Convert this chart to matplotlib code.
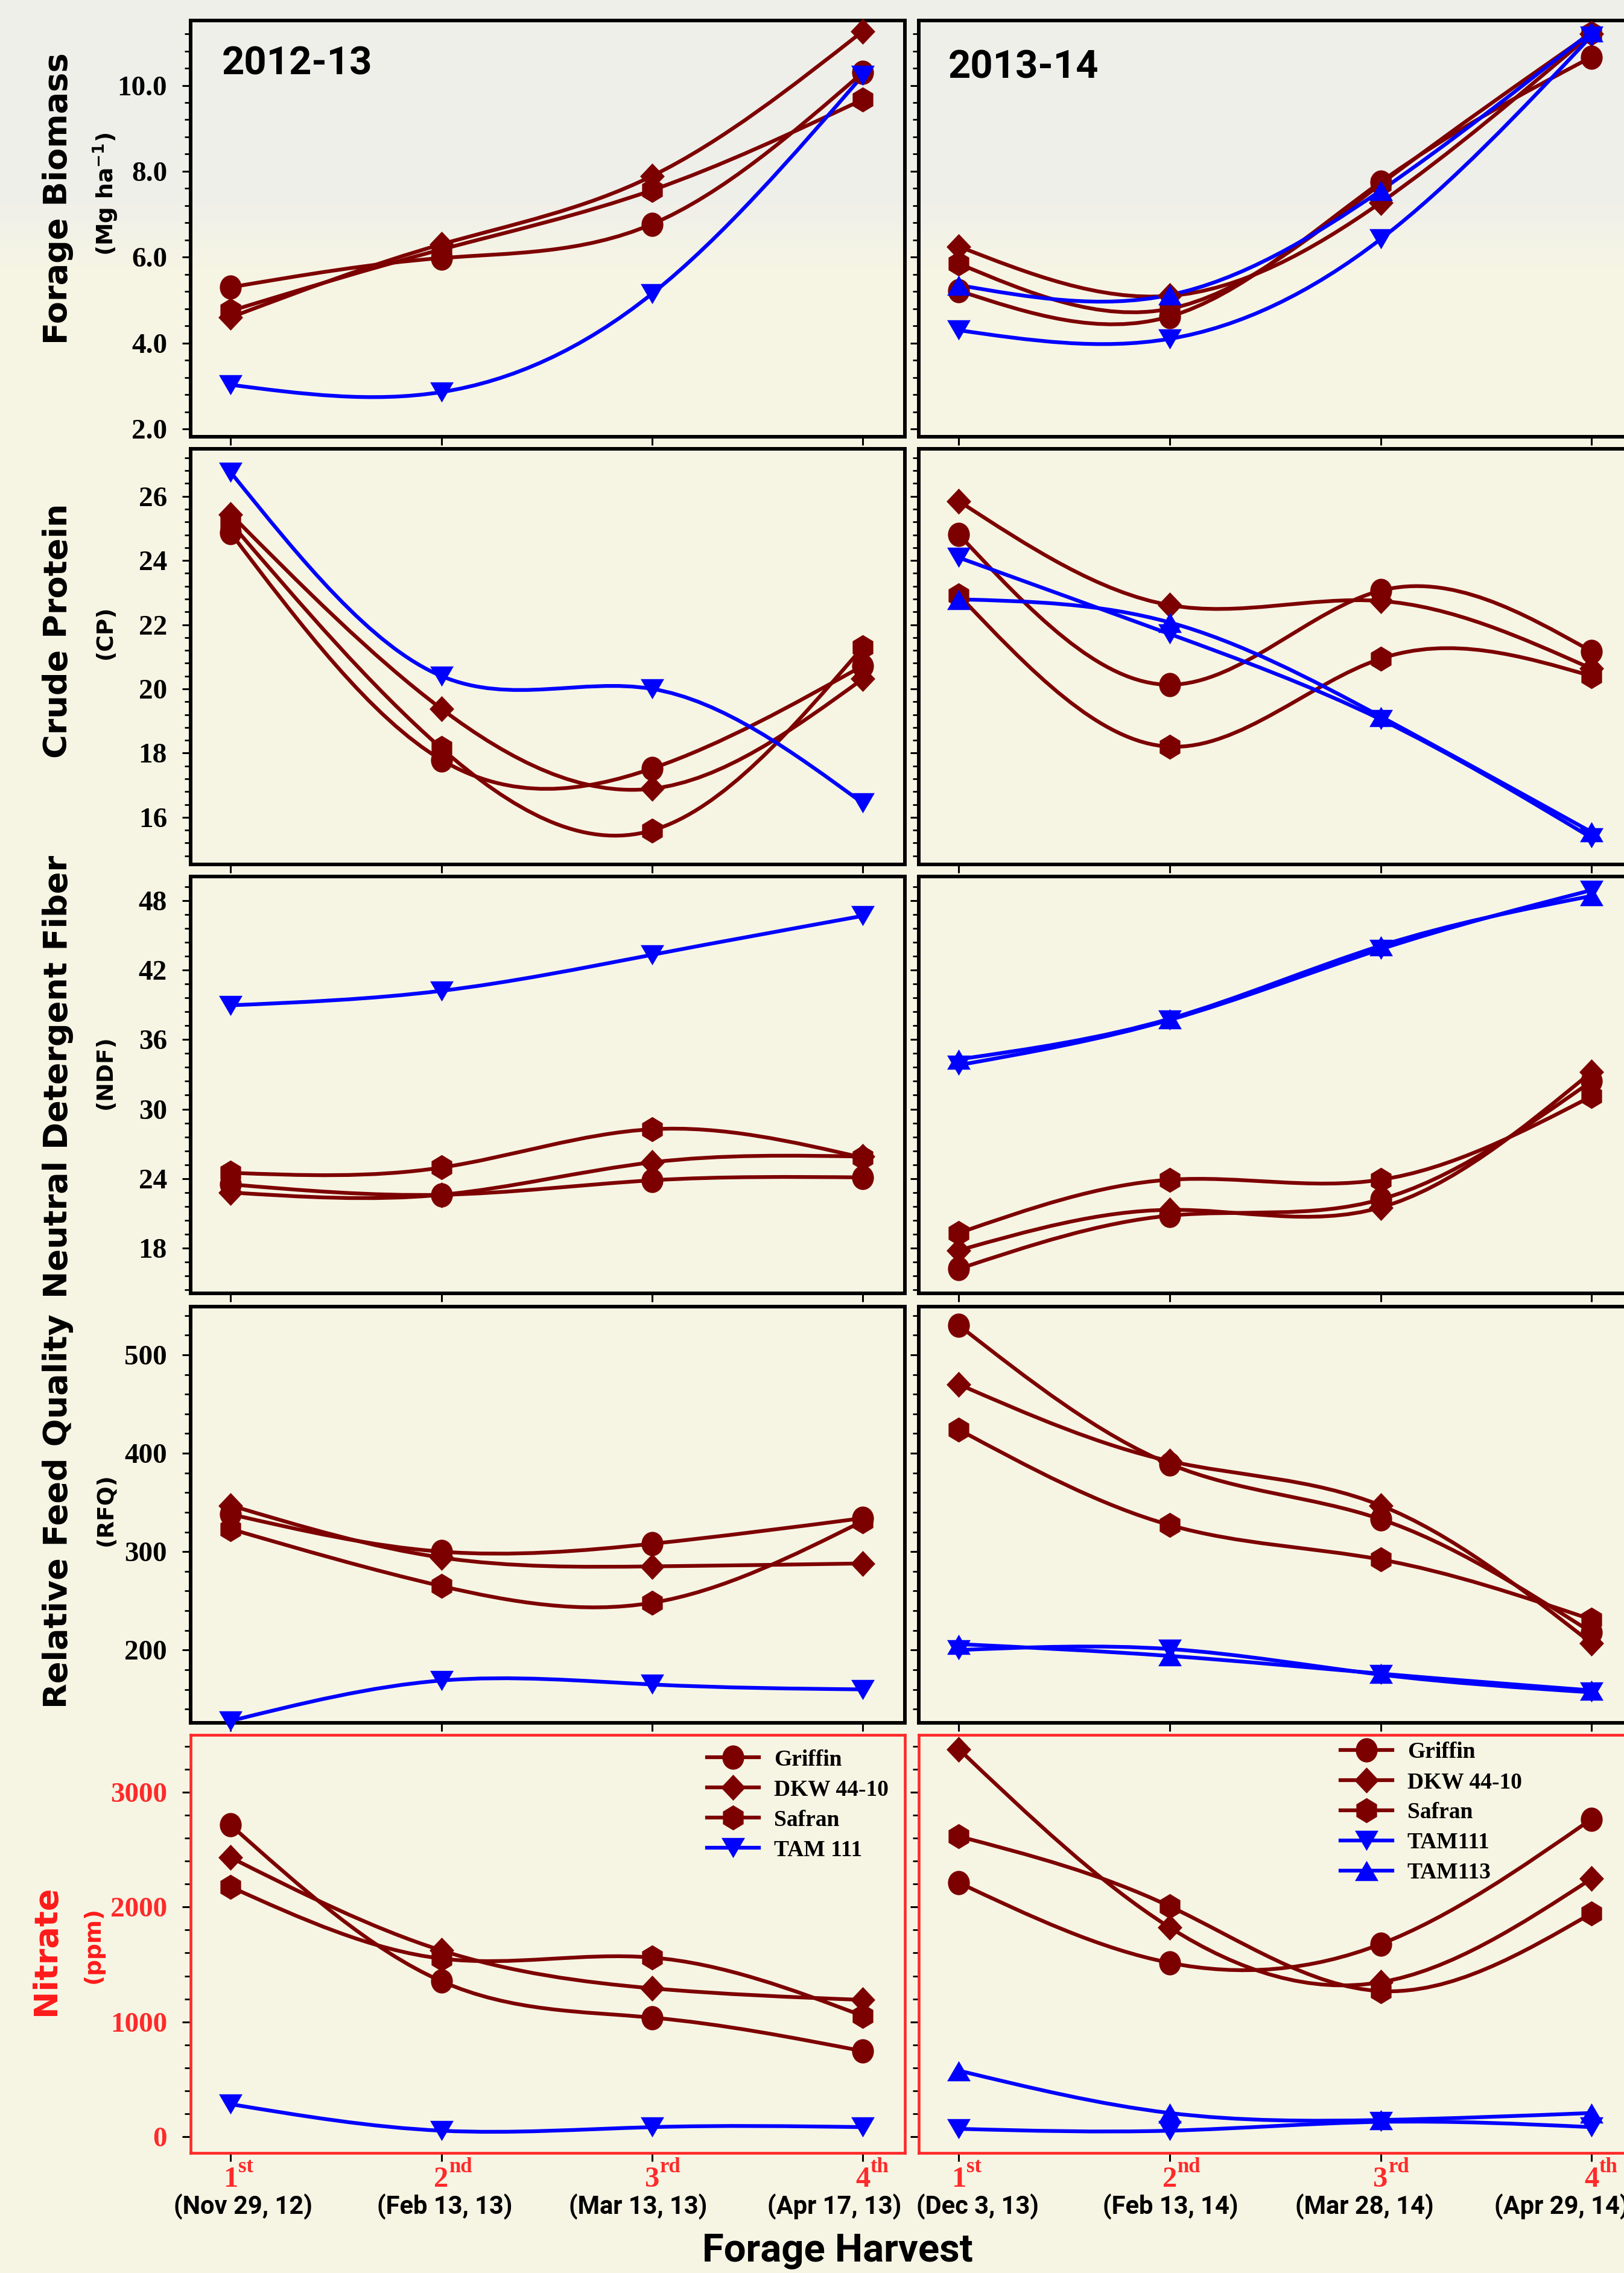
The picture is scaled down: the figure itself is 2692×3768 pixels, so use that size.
import numpy as np
import matplotlib.pyplot as plt
from matplotlib.path import Path
from matplotlib.patches import PathPatch
from matplotlib.lines import Line2D
from matplotlib.colors import LinearSegmentedColormap
import matplotlib.transforms as mtransforms

# ---- data ----
harvest = [1, 2, 3, 4]
ordinals = ['1', '2', '3', '4']
suffixes = ['st', 'nd', 'rd', 'th']
dates_1213 = ['(Nov 29, 12)', '(Feb 13, 13)', '(Mar 13, 13)', '(Apr 17, 13)']
dates_1314 = ['(Dec 3, 13)', '(Feb 13, 14)', '(Mar 28, 14)', '(Apr 29, 14)']

varieties_1213 = ['Griffin', 'DKW 44-10', 'Safran', 'TAM 111']
varieties_1314 = ['Griffin', 'DKW 44-10', 'Safran', 'TAM111', 'TAM113']

biomass_1213 = {'Griffin': [5.30, 5.98, 6.77, 10.30],
                'DKW 44-10': [4.60, 6.30, 7.89, 11.26],
                'Safran': [4.75, 6.18, 7.56, 9.67],
                'TAM 111': [3.03, 2.86, 5.15, 10.23]}
biomass_1314 = {'Griffin': [5.22, 4.62, 7.75, 10.66],
                'DKW 44-10': [6.25, 5.10, 7.27, 11.20],
                'Safran': [5.85, 4.80, 7.70, 11.22],
                'TAM111': [4.30, 4.10, 6.42, 11.15],
                'TAM113': [5.35, 5.12, 7.55, 11.25]}

cp_1213 = {'Griffin': [24.86, 17.79, 17.52, 20.72],
           'DKW 44-10': [25.44, 19.38, 16.89, 20.31],
           'Safran': [25.17, 18.15, 15.59, 21.30],
           'TAM 111': [26.75, 20.40, 20.00, 16.44]}
cp_1314 = {'Griffin': [24.81, 20.13, 23.06, 21.17],
           'DKW 44-10': [25.85, 22.61, 22.74, 20.63],
           'Safran': [22.92, 18.20, 20.94, 20.40],
           'TAM111': [24.09, 21.71, 19.05, 15.36],
           'TAM113': [22.79, 22.07, 19.14, 15.54]}

ndf_1213 = {'Griffin': [23.5, 22.6, 23.85, 24.1],
            'DKW 44-10': [22.8, 22.6, 25.4, 25.9],
            'Safran': [24.5, 24.95, 28.26, 25.8],
            'TAM 111': [38.96, 40.21, 43.32, 46.68]}
ndf_1314 = {'Griffin': [16.2, 20.8, 22.2, 32.4],
            'DKW 44-10': [17.8, 21.3, 21.5, 33.2],
            'Safran': [19.3, 23.9, 23.9, 31.1],
            'TAM111': [33.8, 37.7, 43.8, 48.9],
            'TAM113': [34.3, 37.8, 44.1, 48.4]}

rfq_1213 = {'Griffin': [338, 300, 308, 334],
            'DKW 44-10': [347, 294, 285, 288],
            'Safran': [323, 265, 248, 331],
            'TAM 111': [128, 169, 165, 160]}
rfq_1314 = {'Griffin': [530, 389, 333, 218],
            'DKW 44-10': [470, 392, 347, 207],
            'Safran': [424, 327, 292, 231],
            'TAM111': [200, 201, 175, 157],
            'TAM113': [206, 194, 176, 159]}

nitrate_1213 = {'Griffin': [2714, 1354, 1037, 745],
                'DKW 44-10': [2431, 1622, 1292, 1191],
                'Safran': [2175, 1551, 1560, 1052],
                'TAM 111': [283, 52, 83, 83]}
nitrate_1314 = {'Griffin': [2212, 1514, 1677, 2766],
                'DKW 44-10': [3375, 1822, 1345, 2246],
                'Safran': [2615, 2006, 1268, 1945],
                'TAM111': [68, 52, 129, 83],
                'TAM113': [575, 206, 145, 206]}

# ---- styles ----
MAROON = '#7d0000'
BLUE = '#0000ff'
RED = '#ff2a2a'
BG = '#f6f5e4'
BG_TOP = '#efefea'


def poly(pts):
    return Path(list(pts) + [pts[0]], closed=True)


def scaled(p, sx, sy):
    return p.transformed(mtransforms.Affine2D().scale(sx, sy))


m_circle = scaled(Path.unit_circle(), 0.9, 1.0)
m_diamond = poly([(0, 1), (0.95, 0), (0, -1), (-0.95, 0)])
m_hexagon = scaled(Path.unit_regular_polygon(6), 0.95, 1.0)
m_tdown = poly([(-1, 0.86), (1, 0.86), (0, -0.86)])
m_tup = poly([(-1, -0.86), (1, -0.86), (0, 0.86)])

style = {'Griffin': (MAROON, m_circle, 29),
         'DKW 44-10': (MAROON, m_diamond, 31),
         'Safran': (MAROON, m_hexagon, 30),
         'TAM 111': (BLUE, m_tdown, 28),
         'TAM111': (BLUE, m_tdown, 28),
         'TAM113': (BLUE, m_tup, 28)}


def spline_path(x, y):
    # natural cubic spline through the points, drawn as bezier segments
    x = np.asarray(x, float)
    y = np.asarray(y, float)
    n = len(x)
    h = np.diff(x)
    A = np.zeros((n, n))
    b = np.zeros(n)
    A[0, 0] = A[-1, -1] = 1
    for i in range(1, n - 1):
        A[i, i - 1] = h[i - 1]
        A[i, i] = 2 * (h[i - 1] + h[i])
        A[i, i + 1] = h[i]
        b[i] = 6 * ((y[i + 1] - y[i]) / h[i] - (y[i] - y[i - 1]) / h[i - 1])
    M = np.linalg.solve(A, b)
    verts = [(x[0], y[0])]
    codes = [Path.MOVETO]
    for i in range(n - 1):
        s = (y[i + 1] - y[i]) / h[i]
        d0 = s - h[i] * (2 * M[i] + M[i + 1]) / 6
        d1 = s + h[i] * (M[i] + 2 * M[i + 1]) / 6
        verts += [(x[i] + h[i] / 3, y[i] + d0 * h[i] / 3),
                  (x[i + 1] - h[i] / 3, y[i + 1] - d1 * h[i] / 3),
                  (x[i + 1], y[i + 1])]
        codes += [Path.CURVE4] * 3
    return Path(verts, codes)


plt.rcParams['font.family'] = ['DejaVu Sans']
fig = plt.figure(figsize=(26.92, 37.68), dpi=100, facecolor=BG)

# soft grey band at the very top of the background
bgax = fig.add_axes([0, 0, 1, 1], zorder=-10)
bgax.axis('off')
grad = np.linspace(0, 1, 512)[:, None]
bgcmap = LinearSegmentedColormap.from_list(
    'bg', [(0, BG), (0.885, BG), (0.915, BG_TOP), (1, BG_TOP)])
bgax.imshow(grad, cmap=bgcmap, aspect='auto', extent=[0, 1, 0, 1], origin='lower')

W, H = 2692.0, 3768.0
col_x = [(316, 1500), (1523, 2708)]
row_y = [(34, 724), (744, 1433), (1453, 2144), (2166, 2856), (2876, 3569)]

panels = [(biomass_1213, biomass_1314), (cp_1213, cp_1314), (ndf_1213, ndf_1314),
          (rfq_1213, rfq_1314), (nitrate_1213, nitrate_1314)]
ylims = [(1.82, 11.51), (14.53, 27.48), (14.09, 50.08), (126, 549), (-142, 3499)]
majors = [np.arange(2, 10.1, 2), np.arange(16, 26.1, 2), np.arange(18, 48.1, 6),
          np.arange(200, 501, 100), np.arange(0, 3001, 1000)]
minors = [0.4, 0.4, 1.2, 20, 200]
fmts = ['{:.1f}', '{:.0f}', '{:.0f}', '{:.0f}', '{:.0f}']

ylabels = ['Forage Biomass', 'Crude Protein', 'Neutral Detergent Fiber',
           'Relative Feed Quality', 'Nitrate']
sublabels = [r'(Mg ha$^{\mathbf{-1}}$)', '(CP)', '(NDF)', '(RFQ)', '(ppm)']
lab_pos = [(-0.186, 0.572, -0.119, 0.583), (-0.186, 0.562, -0.119, 0.559),
           (-0.186, 0.520, -0.119, 0.530), (-0.186, 0.509, -0.119, 0.512),
           (-0.203, 0.485, -0.136, 0.497)]

serif_b = dict(family='Liberation Serif', weight='bold')
sans_b = dict(family='Roboto', weight='bold')

for r, (y0, y1) in enumerate(row_y):
    for c, (x0, x1) in enumerate(col_x):
        ax = fig.add_axes([x0 / W, 1 - y1 / H, (x1 - x0) / W, (y1 - y0) / H])
        ax.set_facecolor('none')
        data = panels[r][c]
        names = varieties_1213 if c == 0 else varieties_1314
        for name in names:
            color, mk, ms = style[name]
            ax.add_patch(PathPatch(spline_path(harvest, data[name]), facecolor='none',
                                   edgecolor=color, lw=4.5, capstyle='round'))
            ax.plot(harvest, data[name], ls='none', marker=mk, ms=ms, color=color,
                    mew=0, clip_on=False, zorder=3)
        ax.set_xlim(0.81, 4.2)
        ax.set_ylim(*ylims[r])
        ax.set_xticks(harvest)
        ax.set_yticks(majors[r])
        mn = np.arange(majors[r][0] - 10 * minors[r], ylims[r][1], minors[r])
        ax.set_yticks(mn[(mn > ylims[r][0]) & (mn < ylims[r][1])], minor=True)
        ax.tick_params(axis='x', direction='out', length=10, width=2.2,
                       labelbottom=False, color='black')
        ax.tick_params(axis='y', which='major', direction='out', length=10, width=2.2, pad=18)
        ax.tick_params(axis='y', which='minor', direction='out', length=7, width=2)
        spine_c = RED if r == 4 else 'black'
        for s in ax.spines.values():
            s.set_color(spine_c)
            s.set_linewidth(3.3 if r == 4 else 4.3)
        if c == 0:
            ax.set_yticklabels([fmts[r].format(v) for v in majors[r]],
                               fontsize=34, color=RED if r == 4 else 'black', **serif_b)
            lx, ly, sx, sy = lab_pos[r]
            tc = '#ff1a1a' if r == 4 else 'black'
            ax.text(lx, ly, ylabels[r], transform=ax.transAxes, rotation=90,
                    ha='center', va='center', fontsize=39, fontweight='heavy', color=tc)
            ax.text(sx, sy, sublabels[r], transform=ax.transAxes, rotation=90,
                    ha='center', va='center', fontsize=27, fontweight='bold', color=tc)
        else:
            ax.set_yticklabels([])
        if r == 0:
            ax.text(0.044 if c == 0 else 0.041, 0.896 if c == 0 else 0.887,
                    '2012-13' if c == 0 else '2013-14', transform=ax.transAxes,
                    ha='left', va='center', fontsize=47, color='black', **sans_b)
        if r == 4:
            trans = ax.get_xaxis_transform()
            dates = dates_1213 if c == 0 else dates_1314
            offs = [15, 4, -17, -34] if c == 0 else [22, 1, -19, -36]
            for x, o, s, d, dx in zip(harvest, ordinals, suffixes, dates, offs):
                ax.annotate(o, xy=(x, 0), xycoords=trans, xytext=(0, -40),
                            textcoords='offset points', ha='center', va='baseline',
                            fontsize=35, color=RED, annotation_clip=False, **serif_b)
                ax.annotate(s, xy=(x, 0), xycoords=trans, xytext=(9, -23),
                            textcoords='offset points', ha='left', va='baseline',
                            fontsize=25, color=RED, annotation_clip=False, **serif_b)
                ax.annotate(d, xy=(x, 0), xycoords=trans, xytext=(dx, -64),
                            textcoords='offset points', ha='center', va='center',
                            fontsize=30, color='black', annotation_clip=False, **sans_b)
            handles = [Line2D([], [], color=style[n][0], marker=style[n][1],
                              ms=style[n][2], mew=0, lw=4.5) for n in names]
            ax.legend(handles, names, loc='upper left',
                      bbox_to_anchor=(0.723, 0.966) if c == 0 else (0.59, 0.984),
                      frameon=False, handlelength=2.3, handletextpad=0.65,
                      labelspacing=0.4, borderpad=0, borderaxespad=0,
                      prop=dict(size=27, **serif_b))

fig.text(1388 / W, 1 - 3732 / H, 'Forage Harvest', ha='center', va='center',
         fontsize=47, **sans_b)

fig.savefig('out.png', dpi=100, facecolor=BG)
